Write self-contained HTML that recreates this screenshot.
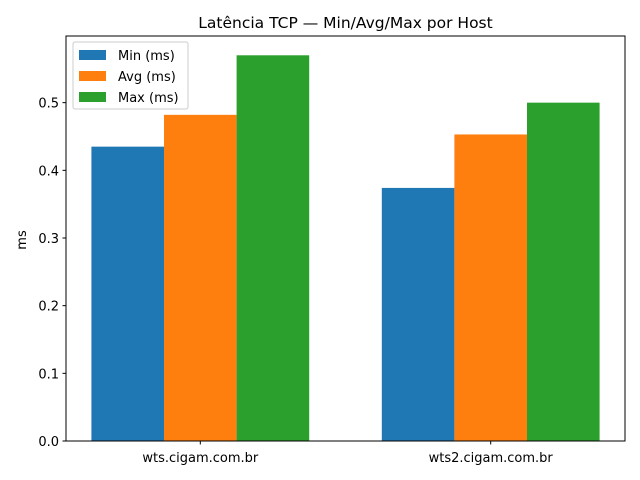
<!DOCTYPE html>
<html><head><meta charset="utf-8"><style>
body{margin:0;background:#fff;}
svg{display:block;font-family:"DejaVu Sans","Liberation Sans",sans-serif;}
</style></head><body>
<svg id="chart" width="640" height="480"></svg>
<script>
const categories = ["wts.cigam.com.br", "wts2.cigam.com.br"];
const seriesNames = ["Min (ms)", "Avg (ms)", "Max (ms)"];
const minVals = [0.435, 0.374];
const avgVals = [0.482, 0.453];
const maxVals = [0.570, 0.500];
const yTicks = [0.0, 0.1, 0.2, 0.3, 0.4, 0.5];
const colors = ["#1f77b4", "#ff7f0e", "#2ca02c"];

const svg = document.getElementById('chart');
const NS = "http://www.w3.org/2000/svg";
const L = 66, R = 625, T = 36, B = 441;
const barW = 0.25;
const xMin = -0.375 - 0.0875, xMax = 1.375 + 0.0875;
const yMax = 0.5985;
const FS = 13;
const xs = v => L + (v - xMin) / (xMax - xMin) * (R - L);
const ys = v => B - v / yMax * (B - T);
function mk(tag, attrs, text) {
  const e = document.createElementNS(NS, tag);
  for (const k in attrs) e.setAttribute(k, attrs[k]);
  if (text !== undefined) e.textContent = text;
  svg.appendChild(e);
  return e;
}
const all = [minVals, avgVals, maxVals];
all.forEach((vals, s) => {
  vals.forEach((v, i) => {
    const cx = i + (s - 1) * barW;
    const r = mk('rect', {x: xs(cx - barW / 2), y: ys(v), width: xs(cx + barW / 2) - xs(cx - barW / 2), height: ys(0) - ys(v), fill: colors[s]});
    
    
  });
});
const frame = mk('rect', {x: L, y: T, width: R - L, height: B - T, fill: 'none', stroke: '#000', 'stroke-width': 1});


yTicks.forEach(t => {
  const y = ys(t);
  mk('line', {x1: L - 3.5, x2: L, y1: y, y2: y, stroke: '#000'});
  const tx = mk('text', {x: L - 7, y: y + 5, 'text-anchor': 'end', 'font-size': FS}, t.toFixed(1));
  
  
});
categories.forEach((c, i) => {
  const x = xs(i);
  mk('line', {x1: x, x2: x, y1: B, y2: B + 3.5, stroke: '#000'});
  const tx = mk('text', {x: x, y: B + 21, 'text-anchor': 'middle', 'font-size': FS}, c);
  
  
});
const yt = mk('text', {x: 26, y: 240, 'text-anchor': 'middle', 'font-size': FS, transform: 'rotate(-90 26 240)'}, 'ms');


const title = mk('text', {x: (L + R) / 2, y: 28, 'text-anchor': 'middle', 'font-size': 15.5}, 'Latência TCP — Min/Avg/Max por Host');


const lg = mk('rect', {x: 73, y: 42, width: 115, height: 67, fill: '#fff', 'fill-opacity': 0.8, stroke: '#ccc', rx: 2});


seriesNames.forEach((n, s) => {
  const y = 55 + s * 21;
  mk('rect', {x: 79, y: y - 5, width: 27, height: 10, fill: colors[s]});
  const tx = mk('text', {x: 118, y: y + 5, 'font-size': FS}, n);
  
  
});
</script>
</body></html>
